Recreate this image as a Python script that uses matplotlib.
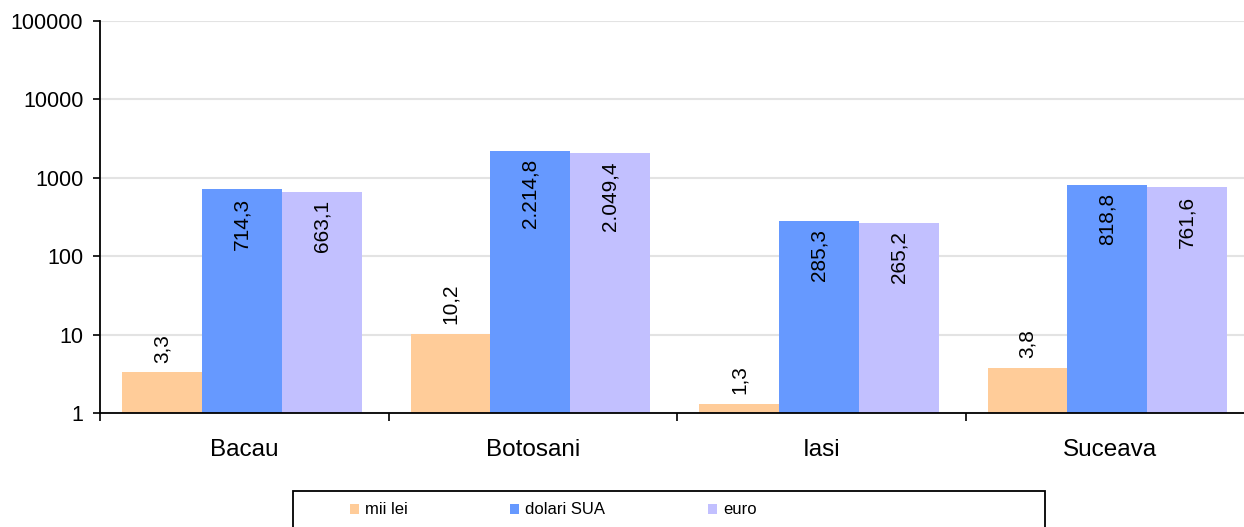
import matplotlib.pyplot as plt
import matplotlib.patches as mpatches
import numpy as np

plt.rcParams['font.family'] = ['Liberation Sans', 'DejaVu Sans']

# data
judete = ['Bacau', 'Botosani', 'Iasi', 'Suceava']
serii = ['mii lei', 'dolari SUA', 'euro']
mii_lei = [3.3, 10.2, 1.3, 3.8]
dolari = [714.3, 2214.8, 285.3, 818.8]
euro = [663.1, 2049.4, 265.2, 761.6]
culori = ['#FFCC99', '#6699FF', '#C2C0FF']


def fmt_ro(v):
    # romanian number format: 2.214,8
    s = f"{v:,.1f}"
    return s.replace(',', 'X').replace('.', ',').replace('X', '.')


W, H = 1244, 527
fig = plt.figure(figsize=(W / 100, H / 100), dpi=100)
ax = fig.add_axes([100 / W, (H - 413) / H, 1154 / W, 392 / H])

x = np.arange(len(judete))
w = 0.277
for i, (vals, col, nume) in enumerate(zip([mii_lei, dolari, euro], culori, serii)):
    pos = x + (i - 1) * w - 0.008
    bars = ax.bar(pos, vals, width=w, color=col, label=nume, zorder=2)
    for b, v in zip(bars, vals):
        if i == 0:
            ax.annotate(fmt_ro(v), (b.get_x() + b.get_width() / 2, v),
                        xytext=(0, 7), textcoords='offset points',
                        rotation=90, ha='center', va='bottom', fontsize=15)
        else:
            ax.annotate(fmt_ro(v), (b.get_x() + b.get_width() / 2, v),
                        xytext=(0, -6), textcoords='offset points',
                        rotation=90, ha='center', va='top', fontsize=15)

ax.set_yscale('log')
ax.set_ylim(1, 100000)
ax.set_yticks([1, 10, 100, 1000, 10000, 100000])
ax.set_yticklabels(['1', '10', '100', '1000', '10000', '100000'])
ax.minorticks_off()
ax.yaxis.grid(True, color='#E3E3E3', linewidth=1.5, zorder=0)
ax.set_axisbelow(True)

ax.set_xlim(-0.5, 3.5)
ax.set_xticks([-0.5, 0.5, 1.5, 2.5, 3.5])
ax.set_xticklabels([])
ax.set_xticks(x, minor=True)
ax.set_xticklabels(judete, minor=True)
ax.tick_params(axis='x', which='minor', length=0, pad=19, labelsize=17.5)
ax.tick_params(axis='x', which='major', length=6, width=1.2, direction='out')
ax.tick_params(axis='y', length=5, width=1.2, pad=7, labelsize=15.5)

for s in ['top', 'right']:
    ax.spines[s].set_visible(False)
for s in ['left', 'bottom']:
    ax.spines[s].set_linewidth(1.3)

# legend box
fig.patches.append(mpatches.Rectangle((293 / W, -5 / H), (1045 - 293) / W, (527 - 491 + 5) / H,
                                      transform=fig.transFigure, fill=False,
                                      edgecolor='black', linewidth=1.3))
handles, labels = ax.get_legend_handles_labels()
fig.legend(handles, labels, loc='center left', bbox_to_anchor=(350 / W, (H - 510) / H),
           ncol=3, frameon=False, fontsize=12, handlelength=0.55, handleheight=0.55,
           handletextpad=0.35, columnspacing=6.15, borderpad=0, borderaxespad=0)

fig.savefig('out.png', dpi=100)
